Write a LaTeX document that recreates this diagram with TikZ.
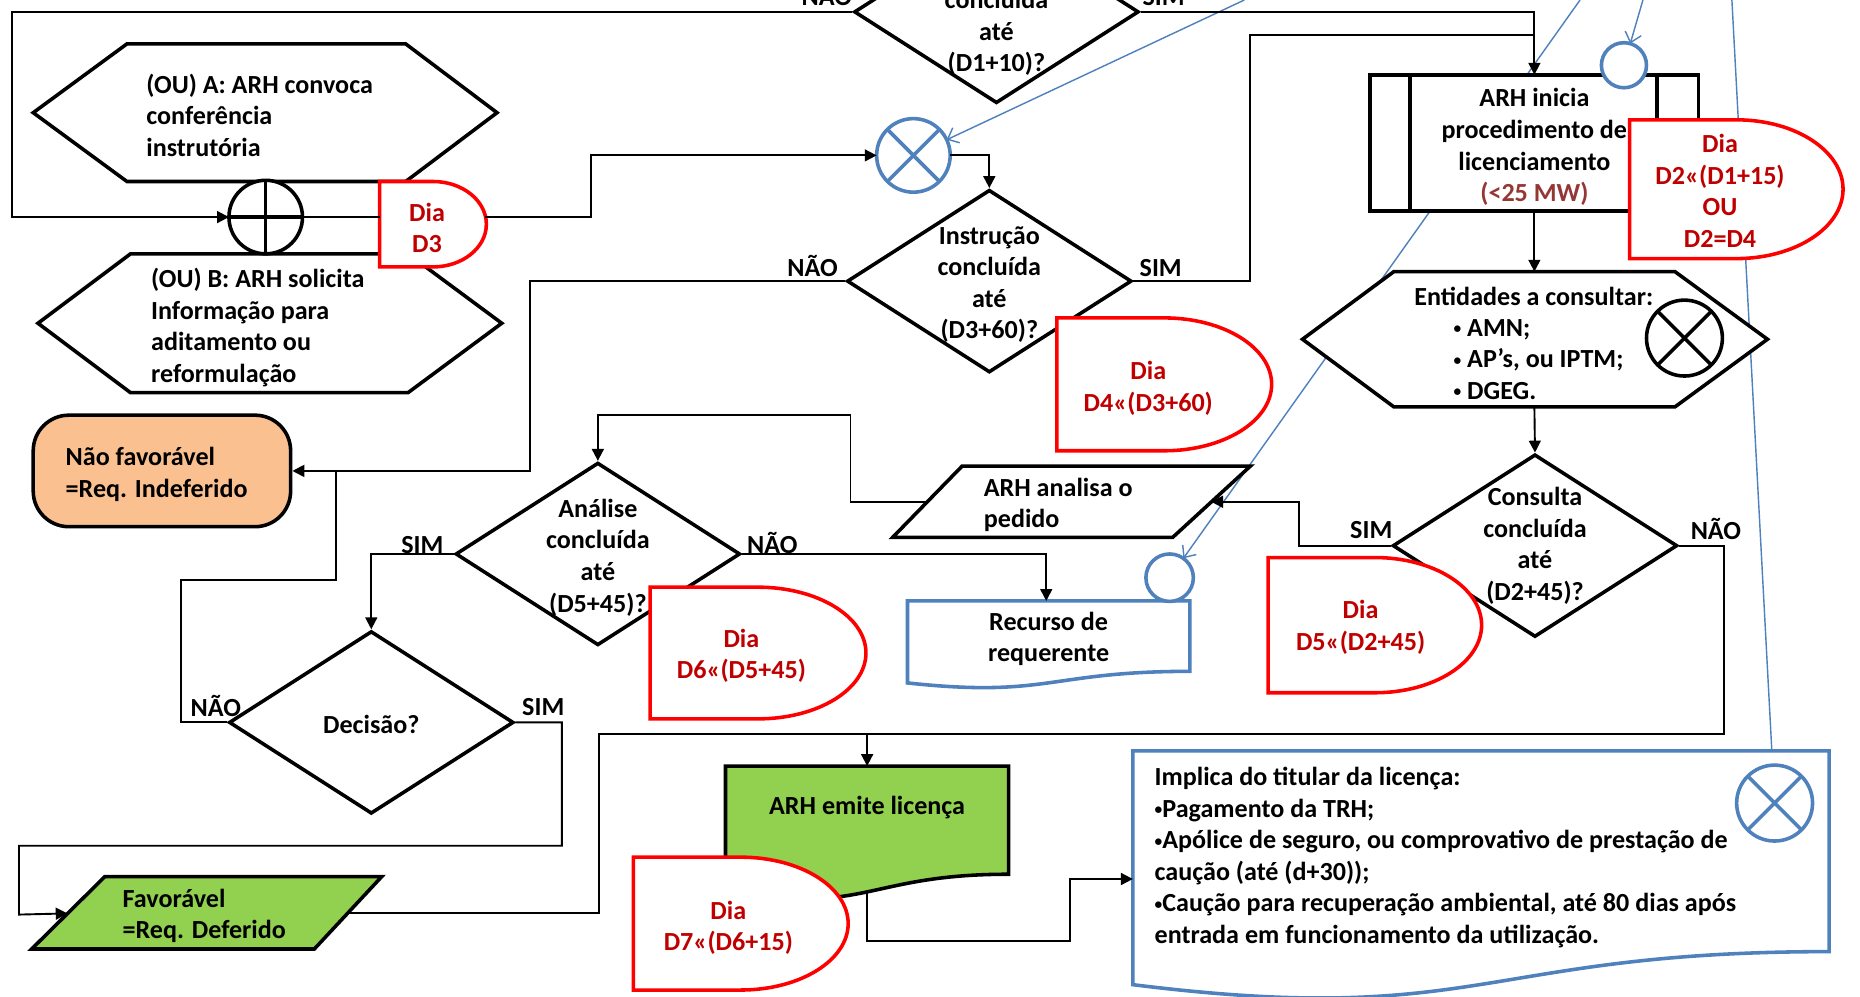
\documentclass[tikz,border=0pt]{standalone}
\usepackage{fontspec}
\setmainfont{Carlito}
\usetikzlibrary{arrows.meta,shapes.geometric}
\definecolor{oblue}{HTML}{4F81BD}
\definecolor{dred}{HTML}{C00000}
\definecolor{rline}{HTML}{FF0000}
\definecolor{peach}{HTML}{FAC090}
\definecolor{lgreen}{HTML}{92D050}
\definecolor{brn}{HTML}{953735}
\pgfdeclarelayer{bg}
\pgfsetlayers{bg,main}
\newcommand{\bul}{\raisebox{1.1pt}{\fontsize{6.5}{6.5}\selectfont •}}
\newcommand{\dlyshape}[4]{\draw[dly] (#1,-#2) -- ({(#1+#3)/2},-#2) arc[start angle=90,end angle=-90,x radius={(#3-#1)/2},y radius={(#4-#2)/2}] -- (#1,-#4) -- cycle;}
\newcommand{\docshape}[5]{\draw[#1] (#2,-#3) -- (#4,-#3) -- (#4,{-(#3+0.802*#5)}) .. controls ({(#2+#4)/2},{-(#3+0.802*#5)}) and ({(#2+#4)/2},{-(#3+1.1075*#5)}) .. (#2,{-(#3+0.934*#5)}) -- cycle;}
\begin{document}
\begin{tikzpicture}[x=0.5pt,y=0.5pt,
  shp/.style={draw=black,line width=1.5pt,fill=white},
  conn/.style={draw=black,line width=0.8pt},
  arr/.style={conn,-{Triangle[length=5pt,width=5pt]}},
  bl/.style={draw=oblue,line width=0.6pt,-{Straight Barb[length=4pt,width=7pt]}},
  dly/.style={draw=rline,line width=1.5pt,fill=white},
  txt/.style={font=\fontsize{11}{13.3}\selectfont\bfseries,inner sep=0pt,align=center},
  rtxt/.style={txt,text=dred},
  ltxt/.style={txt,align=left,anchor=west},
  lbl/.style={font=\fontsize{11}{13}\selectfont\bfseries,inner sep=0pt,anchor=base},
  dia/.style={shp,diamond,minimum width=120pt,minimum height=77pt,inner sep=0pt},
  circ/.style={circle,fill=white,line width=1.5pt,inner sep=0pt,outer sep=0pt},
]
\useasboundingbox (0,0) rectangle (1568,-840);
\clip (0,0) rectangle (1568,-840);

% ---------- diamonds
\node[dia] (dtop) at (840,-10) {};
\node[dia] (dins) at (834,-237) {};
\node[dia] (dana) at (504,-467) {};
\node[dia] (dcon) at (1294,-460) {};
\node[dia] (ddec) at (313,-609) {};

% ---------- hexagons
\draw[shp] (28,-95) -- (107,-37) -- (342,-37) -- (419,-95) -- (342,-153) -- (107,-153) -- cycle;
\draw[shp] (32,-272.5) -- (110,-214) -- (344,-214) -- (423,-272.5) -- (344,-331) -- (110,-331) -- cycle;
\draw[shp] (1098,-286) -- (1175,-229) -- (1412,-229) -- (1490,-286) -- (1412,-343) -- (1175,-343) -- cycle;
\coordinate (entN) at (1293.5,-229);
\coordinate (entS) at (1293.5,-343);

% ---------- ARH predefined process
\node[shp,rectangle,minimum width=138.5pt,minimum height=57.5pt,inner sep=0pt,outer sep=0pt] (arh) at (1293.5,-120.5) {};
\draw[line width=1.5pt] ([xshift=16.75pt]arh.north west) -- ([xshift=16.75pt]arh.south west);
\draw[line width=1.5pt] ([xshift=-17.5pt]arh.north east) -- ([xshift=-17.5pt]arh.south east);

% ---------- terminator
\node[draw=black,line width=1.5pt,fill=peach,rectangle,rounded corners=15pt,minimum width=108.5pt,minimum height=47pt,inner sep=0pt] (nf) at (136.5,-397) {};

% ---------- parallelograms
\draw[shp] (811,-393) -- (1054,-393) -- (988.6,-453) -- (752.5,-453) -- cycle;
\coordinate (analE) at (1021,-423);
\coordinate (analW) at (781.7,-423);
\draw[shp,fill=lgreen] (88.4,-739) -- (321.8,-739) -- (265,-800) -- (26.7,-800) -- cycle;
\coordinate (favW) at (57,-770);
\coordinate (favE) at (293,-770);

% ---------- document shapes
\docshape{shp,draw=oblue}{765}{506.6}{1003}{74}
\coordinate (recN) at (882,-506.6);
\docshape{shp,fill=lgreen}{611.6}{645.8}{850.2}{113.7}
\coordinate (emN) at (731,-645.8);
\coordinate (emS) at (731,-752);
\docshape{shp,draw=oblue}{955}{633}{1542}{211}
\coordinate (impW) at (955,-741);

% ---------- circles
\node[circ,draw=black,minimum size=31pt] (op) at (224,-183) {};
\draw[line width=1.5pt] (op.north) -- (op.south) (op.west) -- (op.east);
\node[circ,draw=oblue,minimum size=31pt] (bx1) at (770,-131) {};
\draw[oblue,line width=1.5pt] (bx1.north west) -- (bx1.south east) (bx1.north east) -- (bx1.south west);
\node[circ,draw=black,minimum size=32pt] (kx) at (1420,-285) {};
\draw[line width=1.5pt] (kx.north west) -- (kx.south east) (kx.north east) -- (kx.south west);
\node[circ,draw=oblue,minimum size=32pt] (bx2) at (1496,-677) {};
\draw[oblue,line width=1.5pt] (bx2.north west) -- (bx2.south east) (bx2.north east) -- (bx2.south west);
\node[circ,draw=oblue,minimum size=19pt] (sc1) at (1369,-55) {};
\node[circ,draw=oblue,minimum size=20pt] (sc2) at (986,-487) {};

% ---------- texts of main shapes
\node[txt] (tdtop) at (840,-28) {concluída\\até\\(D1+10)?};
\node[txt] (tins) at (834,-240) {Instrução\\concluída\\até\\(D3+60)?};
\node[txt] (tana) at (504,-470) {Análise\\concluída\\até\\(D5+45)?};
\node[txt] (tcon) at (1294,-460) {Consulta\\concluída\\até\\(D2+45)?};
\node[txt] (tdec) at (313,-611) {Decisão?};
\node[ltxt] (thA) at (123,-97) {(OU) A: ARH convoca\\conferência\\instrutória};
\node[ltxt] (thB) at (127,-276) {(OU) B: ARH solicita\\Informação para\\aditamento ou\\reformulação};
\node[txt] (tarh) at (1293.5,-124) {ARH inicia\\procedimento de\\licenciamento\\\textcolor{brn}{(<25 MW)}};
\node[txt] (tentT) at (1293,-250) {Entidades a consultar:};
\node[ltxt] (tentB) at (1225,-303) {\bul{} AMN;\\\bul{} AP’s, ou IPTM;\\\bul{} DGEG.};
\node[ltxt] (tnf) at (55,-400) {Não favorável\\=Req. Indeferido};
\node[ltxt] (tfav) at (103,-772) {Favorável\\=Req. Deferido};
\node[ltxt] (tanl) at (829,-425.5) {ARH analisa o\\pedido};
\node[txt] (trec) at (884,-538.5) {Recurso de\\requerente};
\node[txt] (tem) at (731,-681) {ARH emite licença};
\node[ltxt] (timp) at (973,-723) {Implica do titular da licença:\\\bul Pagamento da TRH;\\\bul Apólice de seguro, ou comprovativo de prestação de\\caução (até (d+30));\\\bul Caução para recuperação ambiental, até 80 dias após\\entrada em funcionamento da utilização.};

% ---------- delay shapes (red)
\dlyshape{320}{153}{410}{225}
\coordinate (d3w) at (320,-183);
\coordinate (d3e) at (409,-183);
\dlyshape{891}{268}{1072}{380}
\dlyshape{1373.7}{101}{1553.7}{218}
\dlyshape{1069}{470}{1249}{584}
\dlyshape{548}{495}{730}{606}
\dlyshape{534}{722.6}{715}{834.6}
\node[rtxt] (td3) at (360,-192) {Dia\\D3};
\node[rtxt] (td4) at (968,-327.5) {Dia\\D4«(D3+60)};
\node[rtxt] (td2) at (1450,-161) {Dia\\D2«(D1+15)\\OU\\D2=D4};
\node[rtxt] (td5) at (1147,-529) {Dia\\D5«(D2+45)};
\node[rtxt] (td6) at (625,-553) {Dia\\D6«(D5+45)};
\node[rtxt] (td7) at (614,-782) {Dia\\D7«(D6+15)};

% ---------- labels
\node[lbl] (lt1) at (697,-5) {NÃO};
\node[lbl] (lt2) at (981,-5) {SIM};
\node[lbl] (li1) at (685,-233) {NÃO};
\node[lbl] (li2) at (978.5,-233) {SIM};
\node[lbl] (la1) at (356,-467) {SIM};
\node[lbl] (la2) at (651,-467) {NÃO};
\node[lbl] (ld1) at (182,-604) {NÃO};
\node[lbl] (ld2) at (458,-603) {SIM};
\node[lbl] (lc1) at (1156,-454) {SIM};
\node[lbl] (lc2) at (1446.5,-455) {NÃO};

% ---------- elbow coordinates
\coordinate (k1) at (10,-10);
\coordinate (k4) at (498,-183);
\coordinate (k6) at (1054,-29.5);
\coordinate (k6b) at (1293.5,-29.5);
\coordinate (k7) at (447,-300);
\coordinate (k10) at (1095.4,-440);
\coordinate (k11) at (1453.7,-540);
\coordinate (k12) at (717,-350);
\coordinate (k15) at (152.7,-489);
\coordinate (k15b) at (283.5,-397);
\coordinate (k16) at (473.6,-713);
\coordinate (k16b) at (16,-771);
\coordinate (k17) at (505.3,-619);
\coordinate (k17b) at (731,-619);
\coordinate (k18) at (902,-793);

% ---------- connectors
\draw[arr] (dtop.west) -- (k1) |- (op.west);
\draw[arr] (dtop.east) -| (arh.north);
\draw[conn] (op.east) -- (d3w);
\draw[arr] (d3e) -- (k4) |- (bx1.west);
\draw[arr] (bx1.east) -| (dins.north);
\draw[conn] (dins.east) -| (k6) -- (k6b);
\draw[arr] (dins.west) -| (k7) |- (nf.east);
\draw[arr] (arh.south) -- (entN);
\draw[arr] (entS) -- (dcon.north);
\draw[arr] (dcon.west) -| (k10) |- (analE);
\draw[conn] (dcon.east) -| (k11) |- (k17b);
\draw[arr] (analW) -| (k12) -| (dana.north);
\draw[arr] (dana.east) -| (recN);
\draw[arr] (dana.west) -| (ddec.north);
\draw[conn] (ddec.west) -| (k15) -| (k15b);
\draw[arr] (ddec.east) -| (k16) -| (k16b) -- (favW);
\draw[arr] (favE) -| (k17) -| (emN);
\draw[arr] (emS) |- (k18) |- (impW);

% ---------- blue lines (behind)
\coordinate (t1) at (1049,0);
\coordinate (t2) at (1332,0);
\coordinate (t3) at (1385,0);
\coordinate (t4) at (1460,0);
\begin{pgfonlayer}{bg}
\fill[white] (0,0) rectangle (1568,-840);
\draw[bl] (t1) -- (bx1);
\draw[bl] (t2) -- (sc2);
\draw[bl] (t3) -- (sc1);
\draw[bl] (t4) -- (bx2);
\end{pgfonlayer}
\end{tikzpicture}
\end{document}
